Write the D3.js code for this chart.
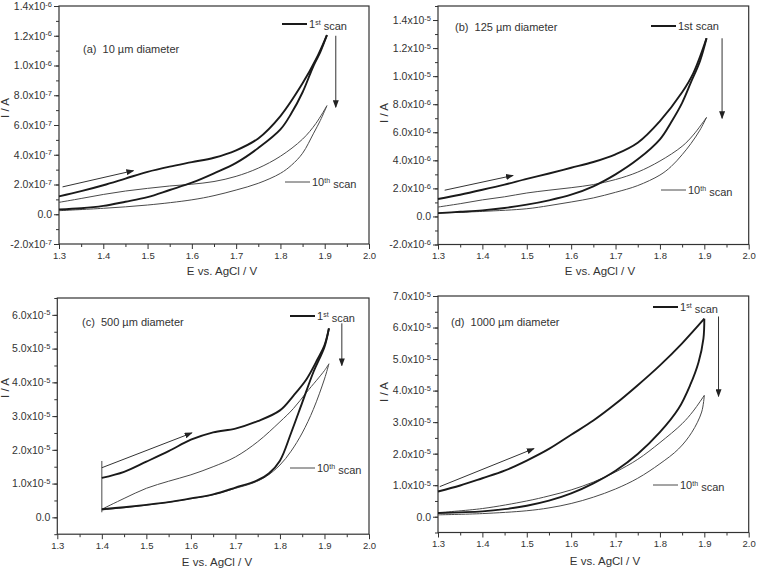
<!DOCTYPE html>
<html>
<head>
<meta charset="utf-8">
<script src="https://cdn.jsdelivr.net/npm/d3@7"></script>
<style>
  body { margin: 0; background: #fff; }
  text { font-family: "Liberation Sans", Arial, sans-serif; fill: #333; }
</style>
</head>
<body>
<div id="chart"></div>
<script>
const W = 757, H = 570;

// x axis ticks (V)
const xTicks = [1.3, 1.4, 1.5, 1.6, 1.7, 1.8, 1.9, 2.0];
const xMinor = [1.35, 1.45, 1.55, 1.65, 1.75, 1.85, 1.95];

// (a) 10 um, y in units of 1e-7 A
const aFirstFwd = [[1.30,1.2],[1.35,1.55],[1.40,1.95],[1.45,2.4],[1.50,2.85],[1.55,3.2],[1.60,3.5],[1.65,3.8],[1.70,4.3],[1.75,5.1],[1.80,6.6],[1.85,8.8],[1.88,10.4],[1.905,12.05]];
const aFirstRev = [[1.905,12.05],[1.89,10.9],[1.875,10.0],[1.85,8.2],[1.825,6.8],[1.80,5.7],[1.75,4.45],[1.70,3.45],[1.65,2.75],[1.60,2.12],[1.55,1.63],[1.50,1.15],[1.45,0.84],[1.40,0.56],[1.35,0.4],[1.30,0.32]];
const aTenthFwd = [[1.30,0.8],[1.35,1.06],[1.40,1.33],[1.45,1.56],[1.50,1.74],[1.55,1.9],[1.60,2.02],[1.65,2.2],[1.70,2.55],[1.75,3.1],[1.80,3.9],[1.85,5.05],[1.88,6.1],[1.905,7.3]];
const aTenthRev = [[1.905,7.3],[1.89,6.3],[1.875,5.45],[1.85,4.1],[1.825,3.3],[1.80,2.75],[1.75,2.08],[1.70,1.63],[1.65,1.25],[1.60,0.97],[1.50,0.62],[1.40,0.4],[1.30,0.24]];

// (b) 125 um, y in units of 1e-6 A
const bFirstFwd = [[1.30,1.24],[1.35,1.55],[1.40,1.9],[1.45,2.27],[1.50,2.68],[1.55,3.06],[1.60,3.47],[1.65,3.88],[1.70,4.43],[1.75,5.26],[1.80,6.8],[1.85,8.85],[1.875,10.2],[1.905,12.7]];
const bFirstRev = [[1.905,12.7],[1.89,11.05],[1.87,9.57],[1.85,8.1],[1.825,6.7],[1.80,5.5],[1.75,4.07],[1.70,3.0],[1.65,2.15],[1.60,1.55],[1.55,1.15],[1.50,0.84],[1.45,0.6],[1.40,0.43],[1.35,0.33],[1.30,0.24]];
const bTenthFwd = [[1.30,0.67],[1.35,0.91],[1.40,1.18],[1.45,1.4],[1.50,1.67],[1.55,1.87],[1.60,2.05],[1.65,2.27],[1.70,2.63],[1.75,3.16],[1.80,3.95],[1.85,5.0],[1.875,5.8],[1.905,7.06]];
const bTenthRev = [[1.905,7.06],[1.89,6.15],[1.87,5.2],[1.85,4.4],[1.825,3.55],[1.80,2.95],[1.75,2.2],[1.70,1.72],[1.65,1.32],[1.60,1.03],[1.55,0.77],[1.50,0.55],[1.40,0.36],[1.30,0.24]];

// (c) 500 um, y in units of 1e-5 A
const cFirstFwd = [[1.40,1.17],[1.45,1.35],[1.50,1.65],[1.55,1.96],[1.60,2.3],[1.65,2.52],[1.70,2.63],[1.75,2.85],[1.80,3.17],[1.83,3.6],[1.86,4.1],[1.885,4.7],[1.90,5.1],[1.91,5.6]];
const cFirstRev = [[1.91,5.6],[1.90,5.05],[1.875,4.3],[1.85,3.4],[1.825,2.5],[1.80,1.68],[1.775,1.3],[1.75,1.1],[1.70,0.88],[1.65,0.68],[1.60,0.56],[1.55,0.45],[1.50,0.37],[1.45,0.3],[1.40,0.24]];
const cTenthFwd = [[1.40,0.24],[1.45,0.56],[1.50,0.86],[1.55,1.07],[1.60,1.26],[1.65,1.5],[1.70,1.79],[1.75,2.24],[1.80,2.83],[1.83,3.22],[1.86,3.71],[1.90,4.35],[1.91,4.55]];
const cTenthRev = [[1.91,4.55],[1.90,4.1],[1.875,3.2],[1.85,2.5],[1.825,1.96],[1.80,1.55],[1.77,1.22],[1.74,1.02],[1.70,0.86],[1.65,0.67],[1.60,0.55],[1.50,0.36],[1.40,0.22]];
const cStep = [[1.40,0.15],[1.40,1.67]];

// (d) 1000 um, y in units of 1e-5 A
const dFirstFwd = [[1.30,0.8],[1.35,0.99],[1.40,1.22],[1.45,1.46],[1.50,1.78],[1.55,2.15],[1.60,2.6],[1.65,3.05],[1.70,3.58],[1.75,4.17],[1.80,4.8],[1.85,5.5],[1.90,6.28]];
const dFirstRev = [[1.90,6.28],[1.898,5.65],[1.887,4.9],[1.868,4.17],[1.842,3.43],[1.80,2.68],[1.75,1.99],[1.70,1.46],[1.65,1.06],[1.60,0.74],[1.55,0.51],[1.50,0.35],[1.45,0.24],[1.40,0.17],[1.30,0.12]];
const dTenthFwd = [[1.30,0.13],[1.40,0.26],[1.50,0.5],[1.55,0.66],[1.60,0.85],[1.65,1.1],[1.70,1.42],[1.75,1.82],[1.80,2.35],[1.85,2.95],[1.875,3.35],[1.90,3.85]];
const dTenthRev = [[1.90,3.85],[1.894,3.32],[1.872,2.68],[1.842,2.15],[1.80,1.68],[1.75,1.22],[1.70,0.88],[1.65,0.62],[1.60,0.42],[1.55,0.28],[1.50,0.19],[1.40,0.1],[1.30,0.06]];

const panels = [
  { title: "(a)  10 µm diameter", unit: 1e-7, yDomain: [-2, 14], major: 2,
    left: 59, right: 369, top: 6, bottom: 244,
    first: [aFirstFwd, aFirstRev], tenth: [aTenthFwd, aTenthRev], extra: [],
    arrows: [[[1.308,1.84],[1.468,2.93]], [[1.925,12.0],[1.925,7.2]]],
    titlePos: [83, 53], leg1: [282, 24], leg10: [285, 182], sup10: "th", sup1: "st",
    xTitle: [222, 275], yTitle: [9, 108] },
  { title: "(b)  125 µm diameter", unit: 1e-6, yDomain: [-2, 15], major: 2,
    left: 438, right: 748.7, top: 6, bottom: 244.5,
    first: [bFirstFwd, bFirstRev], tenth: [bTenthFwd, bTenthRev], extra: [],
    arrows: [[[1.315,1.87],[1.469,2.92]], [[1.94,12.7],[1.94,7.0]]],
    titlePos: [455, 31], leg1: [651, 26], leg10: [661, 190], sup10: "th", sup1: null,
    xTitle: [600, 275], yTitle: [388, 113] },
  { title: "(c)  500 µm diameter", unit: 1e-5, yDomain: [-0.5, 6.5], major: 1,
    left: 57.3, right: 369, top: 298, bottom: 534.2,
    first: [cFirstFwd, cFirstRev], tenth: [cTenthFwd, cTenthRev], extra: [cStep],
    arrows: [[[1.40,1.47],[1.602,2.5]], [[1.939,5.75],[1.939,4.5]]],
    titlePos: [82, 326], leg1: [290, 316], leg10: [290, 468], sup10: "th", sup1: "st",
    xTitle: [217, 566], yTitle: [9, 388] },
  { title: "(d)  1000 µm diameter", unit: 1e-5, yDomain: [-0.5, 7], major: 1,
    left: 438, right: 748.7, top: 296, bottom: 532.5,
    first: [dFirstFwd, dFirstRev], tenth: [dTenthFwd, dTenthRev], extra: [],
    arrows: [[[1.304,0.955],[1.516,2.16]], [[1.932,6.35],[1.932,3.82]]],
    titlePos: [451, 326], leg1: [653, 307], leg10: [653, 485], sup10: "th", sup1: "st",
    xTitle: [605, 565], yTitle: [388, 392] }
];

const svg = d3.select("#chart").append("svg")
  .attr("width", W).attr("height", H);

svg.append("defs").append("marker")
  .attr("id", "arr")
  .attr("viewBox", "0 -3 8 6")
  .attr("refX", 7).attr("refY", 0)
  .attr("markerWidth", 8).attr("markerHeight", 6)
  .attr("markerUnits", "userSpaceOnUse")
  .attr("orient", "auto")
  .append("path").attr("d", "M0,-3L8,0L0,3Z").attr("fill", "#222");

// split a value into mantissa / exponent like "1.4x10^-6"
function sci(v) {
  if (Math.abs(v) < 1e-15) return null;
  const e = Math.floor(Math.log10(Math.abs(v)) + 1e-9);
  const m = v / Math.pow(10, e);
  return { m: m.toFixed(1), e: String(e) };
}

function drawPanel(p) {
  const g = svg.append("g");
  const x = d3.scaleLinear().domain([1.3, 2.0]).range([p.left, p.right]);
  const y = d3.scaleLinear().domain(p.yDomain.map(d => d * p.unit)).range([p.bottom, p.top]);

  // y tick values
  const yMaj = [], yMin = [];
  for (let v = Math.ceil(p.yDomain[0] / p.major) * p.major; v <= p.yDomain[1] + 1e-9; v += p.major) yMaj.push(+v.toFixed(3) * p.unit);
  for (let v = p.yDomain[0]; v <= p.yDomain[1] + 1e-9; v += p.major / 2) yMin.push(+v.toFixed(3) * p.unit);

  // minor ticks
  g.append("g").attr("transform", `translate(0,${p.bottom})`)
    .call(d3.axisBottom(x).tickValues(xMinor).tickSize(3).tickFormat(""))
    .call(a => a.select(".domain").remove());
  g.append("g").attr("transform", `translate(${p.left},0)`)
    .call(d3.axisLeft(y).tickValues(yMin).tickSize(3).tickFormat(""))
    .call(a => a.select(".domain").remove());

  // major ticks
  const xa = g.append("g").attr("transform", `translate(0,${p.bottom})`)
    .call(d3.axisBottom(x).tickValues(xTicks).tickSize(5).tickPadding(3).tickFormat(d3.format(".1f")));
  xa.select(".domain").remove();
  xa.selectAll("text").attr("font-size", "9.5px").attr("fill", "#333");

  const ya = g.append("g").attr("transform", `translate(${p.left},0)`)
    .call(d3.axisLeft(y).tickValues(yMaj).tickSize(5).tickPadding(2));
  ya.select(".domain").remove();
  ya.selectAll("text").attr("font-size", "10.5px").attr("fill", "#333")
    .each(function (d) {
      const t = d3.select(this);
      const s = sci(d);
      t.text(null);
      if (!s) { t.text("0.0"); return; }
      t.append("tspan").text(s.m + "x10");
      t.append("tspan").attr("dy", "-0.45em").attr("font-size", "7.5px").text(s.e);
    });

  g.selectAll(".tick line").attr("stroke", "#333").attr("stroke-width", 1);

  // frame
  g.append("rect")
    .attr("x", p.left).attr("y", p.top)
    .attr("width", p.right - p.left).attr("height", p.bottom - p.top)
    .attr("fill", "none").attr("stroke", "#333").attr("stroke-width", 1.2);

  const line = d3.line()
    .x(d => x(d[0]))
    .y(d => y(d[1] * p.unit))
    .curve(d3.curveCatmullRom.alpha(0.5));

  // 10th scan (thin)
  g.selectAll(".tenth").data(p.tenth.concat(p.extra)).join("path")
    .attr("d", line).attr("fill", "none")
    .attr("stroke", "#4a4a4a").attr("stroke-width", 1);
  // 1st scan (thick)
  g.selectAll(".first").data(p.first).join("path")
    .attr("d", line).attr("fill", "none")
    .attr("stroke", "#1a1a1a").attr("stroke-width", 1.9);

  // arrows
  g.selectAll(".arrow").data(p.arrows).join("line")
    .attr("x1", d => x(d[0][0])).attr("y1", d => y(d[0][1] * p.unit))
    .attr("x2", d => x(d[1][0])).attr("y2", d => y(d[1][1] * p.unit))
    .attr("stroke", "#333").attr("stroke-width", 1)
    .attr("marker-end", "url(#arr)");

  // panel title
  g.append("text").attr("x", p.titlePos[0]).attr("y", p.titlePos[1])
    .attr("font-size", "11px").style("white-space", "pre").text(p.title);

  // legend
  g.append("line").attr("x1", p.leg1[0]).attr("x2", p.leg1[0] + 25)
    .attr("y1", p.leg1[1]).attr("y2", p.leg1[1])
    .attr("stroke", "#1a1a1a").attr("stroke-width", 2);
  const t1 = g.append("text").attr("x", p.leg1[0] + 27).attr("y", p.leg1[1] + 4).attr("font-size", "11px");
  if (p.sup1) {
    t1.append("tspan").text("1");
    t1.append("tspan").attr("dy", "-0.45em").attr("font-size", "7px").text(p.sup1);
    t1.append("tspan").attr("dy", "0.45em").text(" scan");
  } else {
    t1.text("1st scan");
  }
  g.append("line").attr("x1", p.leg10[0]).attr("x2", p.leg10[0] + 25)
    .attr("y1", p.leg10[1]).attr("y2", p.leg10[1])
    .attr("stroke", "#4a4a4a").attr("stroke-width", 1);
  const t10 = g.append("text").attr("x", p.leg10[0] + 27).attr("y", p.leg10[1] + 4).attr("font-size", "11px");
  t10.append("tspan").text("10");
  t10.append("tspan").attr("dy", "-0.45em").attr("font-size", "7px").text(p.sup10);
  t10.append("tspan").attr("dy", "0.45em").text(" scan");

  // axis titles
  g.append("text").attr("x", p.xTitle[0]).attr("y", p.xTitle[1])
    .attr("text-anchor", "middle").attr("font-size", "11.5px").text("E vs. AgCl / V");
  g.append("text")
    .attr("transform", `translate(${p.yTitle[0]},${p.yTitle[1]}) rotate(-90)`)
    .attr("text-anchor", "middle").attr("font-size", "11.5px").text("I / A");
}

panels.forEach(drawPanel);
</script>
</body>
</html>
